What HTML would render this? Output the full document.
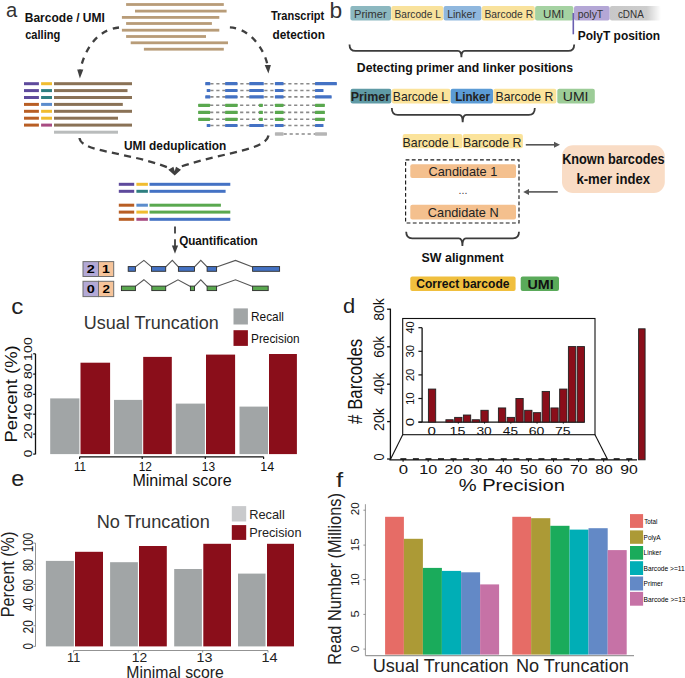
<!DOCTYPE html>
<html><head><meta charset="utf-8"><style>
html,body{margin:0;padding:0;background:#fff;}
svg{display:block;font-family:"Liberation Sans",sans-serif;}
</style></head><body>
<svg width="685" height="678" viewBox="0 0 685 678">
<defs>
<linearGradient id="cdna" x1="0" x2="1" y1="0" y2="0"><stop offset="0" stop-color="#c8c8c8"/><stop offset="0.72" stop-color="#cdcdcd"/><stop offset="1" stop-color="#ffffff"/></linearGradient>
</defs>
<text x="5.99" y="17.30" font-size="20.5" fill="#333" textLength="11.23" lengthAdjust="spacingAndGlyphs">a</text>
<text x="24.78" y="22.00" font-size="12.2" font-weight="bold" fill="#111" textLength="80.12" lengthAdjust="spacingAndGlyphs">Barcode / UMI</text>
<text x="25.17" y="38.70" font-size="12.2" font-weight="bold" fill="#111" textLength="35.11" lengthAdjust="spacingAndGlyphs">calling</text>
<text x="270.89" y="19.90" font-size="12.2" font-weight="bold" fill="#111" textLength="53.34" lengthAdjust="spacingAndGlyphs">Transcript</text>
<text x="272.53" y="38.70" font-size="12.2" font-weight="bold" fill="#111" textLength="52.39" lengthAdjust="spacingAndGlyphs">detection</text>
<rect x="126.10" y="3.10" width="97.70" height="2.80" fill="#b89c78" />
<rect x="135.00" y="9.70" width="91.60" height="2.80" fill="#b89c78" />
<rect x="121.90" y="16.00" width="97.40" height="2.80" fill="#b89c78" />
<rect x="126.10" y="22.10" width="85.80" height="2.80" fill="#b89c78" />
<rect x="121.90" y="28.80" width="97.40" height="2.80" fill="#b89c78" />
<rect x="126.10" y="35.10" width="79.90" height="2.80" fill="#b89c78" />
<rect x="130.70" y="41.40" width="97.30" height="2.80" fill="#b89c78" />
<rect x="143.90" y="47.80" width="79.90" height="2.80" fill="#b89c78" />
<path d="M119,27.5 C93.1,30.1 83,56.3 80.3,70" stroke="#3f3f3f" stroke-width="2.3" fill="none" stroke-dasharray="6.2 6"/>
<path d="M77.2,69.6 L83.3,69.6 L79.9,78.6 Z" stroke="none" stroke-width="1" fill="#3f3f3f" />
<path d="M229.9,27.4 C249.9,28.4 264.3,48.8 267.6,65.5" stroke="#3f3f3f" stroke-width="2.3" fill="none" stroke-dasharray="6.2 6"/>
<path d="M264.7,65 L270.9,65 L268.4,73.6 Z" stroke="none" stroke-width="1" fill="#3f3f3f" />
<rect x="24.00" y="82.20" width="14.90" height="3.00" fill="#5e4a9c" />
<rect x="41.10" y="82.20" width="10.90" height="3.00" fill="#f0bc30" />
<rect x="54.00" y="82.20" width="78.00" height="3.00" fill="#8a7256" />
<rect x="24.00" y="89.10" width="14.90" height="3.00" fill="#5e4a9c" />
<rect x="41.10" y="89.10" width="10.90" height="3.00" fill="#2e7f80" />
<rect x="54.00" y="89.10" width="73.50" height="3.00" fill="#8a7256" />
<rect x="24.00" y="96.00" width="14.90" height="3.00" fill="#5e4a9c" />
<rect x="41.10" y="96.00" width="10.90" height="3.00" fill="#2e7f80" />
<rect x="54.00" y="96.00" width="78.00" height="3.00" fill="#8a7256" />
<rect x="24.00" y="102.90" width="14.90" height="3.00" fill="#b85e24" />
<rect x="41.10" y="102.90" width="10.90" height="3.00" fill="#5b8ccc" />
<rect x="54.00" y="102.90" width="68.80" height="3.00" fill="#8a7256" />
<rect x="24.00" y="109.80" width="14.90" height="3.00" fill="#b85e24" />
<rect x="41.10" y="109.80" width="10.90" height="3.00" fill="#f0bc30" />
<rect x="54.00" y="109.80" width="78.00" height="3.00" fill="#8a7256" />
<rect x="24.00" y="116.70" width="14.90" height="3.00" fill="#b85e24" />
<rect x="41.10" y="116.70" width="10.90" height="3.00" fill="#f0bc30" />
<rect x="54.00" y="116.70" width="64.00" height="3.00" fill="#8a7256" />
<rect x="24.00" y="123.60" width="14.90" height="3.00" fill="#b85e24" />
<rect x="41.10" y="123.60" width="10.90" height="3.00" fill="#a84c82" />
<rect x="54.00" y="123.60" width="78.00" height="3.00" fill="#8a7256" />
<rect x="54.00" y="130.70" width="64.00" height="3.00" fill="#b9bcbc" />
<line x1="210.3" y1="83.7" x2="315" y2="83.7" stroke="#8a8a8a" stroke-width="1.6" stroke-dasharray="3.2 2.8"/>
<rect x="205.20" y="82.10" width="5.10" height="3.20" fill="#4472c4" rx="0.6"/>
<rect x="225.10" y="82.10" width="12.40" height="3.20" fill="#4472c4" rx="0.6"/>
<rect x="249.20" y="82.10" width="14.60" height="3.20" fill="#4472c4" rx="0.6"/>
<rect x="274.90" y="82.10" width="8.70" height="3.20" fill="#4472c4" rx="0.6"/>
<rect x="315.00" y="82.10" width="21.90" height="3.20" fill="#4472c4" rx="0.6"/>
<line x1="210.3" y1="90.5" x2="315" y2="90.5" stroke="#8a8a8a" stroke-width="1.6" stroke-dasharray="3.2 2.8"/>
<rect x="206.70" y="88.90" width="3.60" height="3.20" fill="#4472c4" rx="0.6"/>
<rect x="225.10" y="88.90" width="12.40" height="3.20" fill="#4472c4" rx="0.6"/>
<rect x="249.20" y="88.90" width="14.60" height="3.20" fill="#4472c4" rx="0.6"/>
<rect x="274.90" y="88.90" width="8.70" height="3.20" fill="#4472c4" rx="0.6"/>
<rect x="315.00" y="88.90" width="8.50" height="3.20" fill="#4472c4" rx="0.6"/>
<line x1="210.3" y1="96.9" x2="315" y2="96.9" stroke="#8a8a8a" stroke-width="1.6" stroke-dasharray="3.2 2.8"/>
<rect x="205.20" y="95.30" width="5.10" height="3.20" fill="#4472c4" rx="0.6"/>
<rect x="225.10" y="95.30" width="12.40" height="3.20" fill="#4472c4" rx="0.6"/>
<rect x="249.20" y="95.30" width="14.60" height="3.20" fill="#4472c4" rx="0.6"/>
<rect x="274.90" y="95.30" width="8.70" height="3.20" fill="#4472c4" rx="0.6"/>
<rect x="315.00" y="95.30" width="16.70" height="3.20" fill="#4472c4" rx="0.6"/>
<line x1="210.1" y1="105.3" x2="315" y2="105.3" stroke="#8a8a8a" stroke-width="1.6" stroke-dasharray="3.2 2.8"/>
<rect x="198.10" y="103.70" width="12.00" height="3.20" fill="#5aa84f" rx="0.6"/>
<rect x="225.10" y="103.70" width="12.60" height="3.20" fill="#5aa84f" rx="0.6"/>
<rect x="259.00" y="103.70" width="3.90" height="3.20" fill="#5aa84f" rx="0.6"/>
<rect x="274.90" y="103.70" width="8.70" height="3.20" fill="#5aa84f" rx="0.6"/>
<rect x="315.00" y="103.70" width="9.90" height="3.20" fill="#5aa84f" rx="0.6"/>
<line x1="210.1" y1="112.4" x2="315" y2="112.4" stroke="#8a8a8a" stroke-width="1.6" stroke-dasharray="3.2 2.8"/>
<rect x="198.10" y="110.80" width="12.00" height="3.20" fill="#5aa84f" rx="0.6"/>
<rect x="225.10" y="110.80" width="12.60" height="3.20" fill="#5aa84f" rx="0.6"/>
<rect x="259.00" y="110.80" width="3.90" height="3.20" fill="#5aa84f" rx="0.6"/>
<rect x="274.90" y="110.80" width="8.70" height="3.20" fill="#5aa84f" rx="0.6"/>
<rect x="315.00" y="110.80" width="9.90" height="3.20" fill="#5aa84f" rx="0.6"/>
<line x1="210.1" y1="119.3" x2="315" y2="119.3" stroke="#8a8a8a" stroke-width="1.6" stroke-dasharray="3.2 2.8"/>
<rect x="198.10" y="117.70" width="12.00" height="3.20" fill="#5aa84f" rx="0.6"/>
<rect x="225.10" y="117.70" width="12.60" height="3.20" fill="#5aa84f" rx="0.6"/>
<rect x="259.00" y="117.70" width="3.90" height="3.20" fill="#5aa84f" rx="0.6"/>
<rect x="274.90" y="117.70" width="8.70" height="3.20" fill="#5aa84f" rx="0.6"/>
<rect x="315.00" y="117.70" width="9.90" height="3.20" fill="#5aa84f" rx="0.6"/>
<line x1="210.3" y1="125.5" x2="315" y2="125.5" stroke="#8a8a8a" stroke-width="1.6" stroke-dasharray="3.2 2.8"/>
<rect x="206.70" y="123.90" width="3.60" height="3.20" fill="#4472c4" rx="0.6"/>
<rect x="225.10" y="123.90" width="12.40" height="3.20" fill="#4472c4" rx="0.6"/>
<rect x="249.20" y="123.90" width="14.60" height="3.20" fill="#4472c4" rx="0.6"/>
<rect x="274.90" y="123.90" width="8.70" height="3.20" fill="#4472c4" rx="0.6"/>
<rect x="315.00" y="123.90" width="8.50" height="3.20" fill="#4472c4" rx="0.6"/>
<line x1="283.6" y1="134.0" x2="315" y2="134.0" stroke="#8a8a8a" stroke-width="1.6" stroke-dasharray="3.2 2.8"/>
<rect x="274.90" y="132.30" width="8.70" height="3.40" fill="#b5b5b5" rx="0.6"/>
<rect x="315.00" y="132.30" width="12.00" height="3.40" fill="#b5b5b5" rx="0.6"/>
<text x="123.99" y="149.90" font-size="12.2" font-weight="bold" fill="#111" textLength="102.23" lengthAdjust="spacingAndGlyphs">UMI deduplication</text>
<path d="M79.5,138 C81,152 128,152 168,167.5" stroke="#3f3f3f" stroke-width="2.3" fill="none" stroke-dasharray="7.2 5.2"/>
<path d="M268.5,135.5 C266,150 225,152 181,166.5" stroke="#3f3f3f" stroke-width="2.3" fill="none" stroke-dasharray="7.2 5.2"/>
<path d="M168.3,169.8 L173.4,166.8 L174.7,171.2 L176,166.7 L181,169.8 L174.7,175.5 Z" stroke="none" stroke-width="1" fill="#3f3f3f" />
<rect x="118.80" y="182.80" width="15.40" height="3.00" fill="#5e4a9c" />
<rect x="136.40" y="182.80" width="11.50" height="3.00" fill="#f0bc30" />
<rect x="149.50" y="182.80" width="80.80" height="3.00" fill="#4472c4" />
<rect x="118.80" y="189.80" width="15.40" height="3.00" fill="#5e4a9c" />
<rect x="136.40" y="189.80" width="11.50" height="3.00" fill="#2e7f80" />
<rect x="149.50" y="189.80" width="76.10" height="3.00" fill="#4472c4" />
<rect x="118.80" y="203.70" width="15.40" height="3.00" fill="#b85e24" />
<rect x="136.40" y="203.70" width="11.50" height="3.00" fill="#5b8ccc" />
<rect x="149.50" y="203.70" width="71.40" height="3.00" fill="#5aa84f" />
<rect x="118.80" y="210.60" width="15.40" height="3.00" fill="#b85e24" />
<rect x="136.40" y="210.60" width="11.50" height="3.00" fill="#f0bc30" />
<rect x="149.50" y="210.60" width="80.80" height="3.00" fill="#5aa84f" />
<rect x="118.80" y="217.80" width="15.40" height="3.00" fill="#b85e24" />
<rect x="136.40" y="217.80" width="11.50" height="3.00" fill="#a84c82" />
<rect x="149.50" y="217.80" width="80.80" height="3.00" fill="#4472c4" />
<line x1="175" y1="226.4" x2="175" y2="233.5" stroke="#3f3f3f" stroke-width="1.8" />
<line x1="175" y1="239.3" x2="175" y2="247" stroke="#3f3f3f" stroke-width="1.8" />
<path d="M171.9,245.6 L178.1,245.6 L175,253.7 Z" stroke="none" stroke-width="1" fill="#3f3f3f" />
<text x="179.13" y="244.60" font-size="12.2" font-weight="bold" fill="#111" textLength="78.58" lengthAdjust="spacingAndGlyphs">Quantification</text>
<rect x="83.00" y="261.60" width="15.50" height="14.90" fill="#b3a9d6" stroke="#6f6f6f" stroke-width="1"/>
<rect x="98.50" y="261.60" width="15.20" height="14.90" fill="#f6c49a" stroke="#6f6f6f" stroke-width="1"/>
<text x="86.77" y="273.10" font-size="11.3" font-weight="bold" fill="#000" textLength="8.06" lengthAdjust="spacingAndGlyphs">2</text>
<text x="101.96" y="273.10" font-size="11.3" font-weight="bold" fill="#000" textLength="7.81" lengthAdjust="spacingAndGlyphs">1</text>
<rect x="83.00" y="281.30" width="15.50" height="15.30" fill="#b3a9d6" stroke="#6f6f6f" stroke-width="1"/>
<rect x="98.50" y="281.30" width="15.20" height="15.30" fill="#f6c49a" stroke="#6f6f6f" stroke-width="1"/>
<text x="86.77" y="293.00" font-size="11.3" font-weight="bold" fill="#000" textLength="8.06" lengthAdjust="spacingAndGlyphs">0</text>
<text x="102.40" y="293.00" font-size="11.3" font-weight="bold" fill="#000" textLength="7.49" lengthAdjust="spacingAndGlyphs">2</text>
<path d="M135.4,266.90000000000003 L143.9,260.4 L151.5,266.90000000000003" stroke="#555" stroke-width="1.1" fill="none" />
<path d="M165.7,266.90000000000003 L172.3,260.4 L178.4,266.90000000000003" stroke="#555" stroke-width="1.1" fill="none" />
<path d="M194.5,266.90000000000003 L200.8,260.4 L207.1,266.90000000000003" stroke="#555" stroke-width="1.1" fill="none" />
<path d="M216.6,266.90000000000003 L235.5,260.4 L252.6,266.90000000000003" stroke="#555" stroke-width="1.1" fill="none" />
<rect x="128.20" y="266.60" width="7.20" height="4.70" fill="#4472c4" stroke="#2b2b2b" stroke-width="0.9"/>
<rect x="151.50" y="266.60" width="14.20" height="4.70" fill="#4472c4" stroke="#2b2b2b" stroke-width="0.9"/>
<rect x="178.40" y="266.60" width="16.10" height="4.70" fill="#4472c4" stroke="#2b2b2b" stroke-width="0.9"/>
<rect x="207.10" y="266.60" width="9.50" height="4.70" fill="#4472c4" stroke="#2b2b2b" stroke-width="0.9"/>
<rect x="252.60" y="266.60" width="27.00" height="4.70" fill="#4472c4" stroke="#2b2b2b" stroke-width="0.9"/>
<path d="M135.4,286.40000000000003 L143.9,279.7 L151.8,286.40000000000003" stroke="#555" stroke-width="1.1" fill="none" />
<path d="M165.7,286.40000000000003 L178,279.8 L190.4,286.40000000000003" stroke="#555" stroke-width="1.1" fill="none" />
<path d="M194.5,286.40000000000003 L200.8,279.8 L207.1,286.40000000000003" stroke="#555" stroke-width="1.1" fill="none" />
<path d="M216.6,286.40000000000003 L235.5,279.8 L252.6,286.40000000000003" stroke="#555" stroke-width="1.1" fill="none" />
<rect x="121.40" y="286.10" width="14.00" height="4.50" fill="#5aa84f" stroke="#2b2b2b" stroke-width="0.9"/>
<rect x="151.80" y="286.10" width="13.90" height="4.50" fill="#5aa84f" stroke="#2b2b2b" stroke-width="0.9"/>
<rect x="190.40" y="286.10" width="4.10" height="4.50" fill="#5aa84f" stroke="#2b2b2b" stroke-width="0.9"/>
<rect x="207.10" y="286.10" width="9.50" height="4.50" fill="#5aa84f" stroke="#2b2b2b" stroke-width="0.9"/>
<rect x="252.60" y="286.10" width="15.60" height="4.50" fill="#5aa84f" stroke="#2b2b2b" stroke-width="0.9"/>
<text x="329.63" y="18.40" font-size="21.5" fill="#333" textLength="12.69" lengthAdjust="spacingAndGlyphs">b</text>
<rect x="350.40" y="6.10" width="40.60" height="14.50" rx="2" fill="#8cb8c0" />
<rect x="391.30" y="6.10" width="52.00" height="14.50" rx="2" fill="#f9e29c" />
<rect x="443.60" y="6.10" width="37.80" height="14.50" rx="2" fill="#8fb7de" />
<rect x="481.80" y="6.10" width="53.00" height="14.50" rx="2" fill="#f9e29c" />
<rect x="535.10" y="6.10" width="38.30" height="14.50" rx="2" fill="#a5d2a2" />
<rect x="574.00" y="6.10" width="35.70" height="14.50" rx="2" fill="#b4a7d6" />
<rect x="609.90" y="6.10" width="51.10" height="14.50" rx="2" fill="url(#cdna)" />
<text x="354.01" y="17.70" font-size="10.7" fill="#333" textLength="32.73" lengthAdjust="spacingAndGlyphs">Primer</text>
<text x="394.59" y="17.70" font-size="10.7" fill="#333" textLength="46.28" lengthAdjust="spacingAndGlyphs">Barcode L</text>
<text x="447.15" y="17.70" font-size="10.7" fill="#333" textLength="28.78" lengthAdjust="spacingAndGlyphs">Linker</text>
<text x="484.48" y="17.70" font-size="10.7" fill="#333" textLength="48.66" lengthAdjust="spacingAndGlyphs">Barcode R</text>
<text x="543.09" y="17.70" font-size="10.7" fill="#333" textLength="21.23" lengthAdjust="spacingAndGlyphs">UMI</text>
<text x="577.78" y="17.70" font-size="10.7" fill="#333" textLength="25.44" lengthAdjust="spacingAndGlyphs">polyT</text>
<text x="617.90" y="17.70" font-size="10.7" fill="#333" textLength="25.87" lengthAdjust="spacingAndGlyphs">cDNA</text>
<line x1="573.3" y1="13.0" x2="573.3" y2="34.3" stroke="#6a5fb0" stroke-width="1.6" />
<text x="577.68" y="40.00" font-size="12.8" font-weight="bold" fill="#111" textLength="82.45" lengthAdjust="spacingAndGlyphs">PolyT position</text>
<path d="M349.5,44.4 Q349.5,50.9 355.5,50.9 L457.9,50.9 Q461.4,50.9 461.4,57.3 Q461.4,50.9 464.9,50.9 L568.2,50.9 Q574.2,50.9 574.2,44.4" stroke="#3c3c3c" stroke-width="1.8" fill="none" />
<text x="356.87" y="71.60" font-size="12.2" font-weight="bold" fill="#111" textLength="216.28" lengthAdjust="spacingAndGlyphs">Detecting primer and linker positions</text>
<rect x="350.60" y="88.80" width="40.70" height="14.60" rx="2" fill="#5f9aa5" />
<rect x="391.80" y="88.80" width="58.60" height="14.60" rx="2" fill="#fbe39b" />
<rect x="450.70" y="88.80" width="42.30" height="14.60" rx="2" fill="#5b9bd5" />
<rect x="493.30" y="88.80" width="63.00" height="14.60" rx="2" fill="#fbe39b" />
<rect x="557.30" y="88.80" width="37.50" height="14.60" rx="2" fill="#9ccc97" />
<text x="350.76" y="100.60" font-size="13.0" font-weight="bold" fill="#222" textLength="39.26" lengthAdjust="spacingAndGlyphs">Primer</text>
<text x="392.83" y="100.60" font-size="13.3" fill="#222" textLength="55.29" lengthAdjust="spacingAndGlyphs">Barcode L</text>
<text x="455.20" y="100.60" font-size="13.0" font-weight="bold" fill="#222" textLength="34.80" lengthAdjust="spacingAndGlyphs">Linker</text>
<text x="495.62" y="100.60" font-size="13.3" fill="#222" textLength="57.69" lengthAdjust="spacingAndGlyphs">Barcode R</text>
<text x="562.82" y="100.60" font-size="13.3" fill="#222" textLength="25.71" lengthAdjust="spacingAndGlyphs">UMI</text>
<path d="M391.8,108.0 Q391.8,114.9 397.8,114.9 L459.2,114.9 Q462.7,114.9 462.7,122.3 Q462.7,114.9 466.2,114.9 L528.8,114.9 Q534.8,114.9 534.8,108.0" stroke="#3c3c3c" stroke-width="1.8" fill="none" />
<rect x="402.70" y="133.90" width="59.60" height="14.30" rx="2" fill="#fbe39b" />
<rect x="462.70" y="133.90" width="60.20" height="14.30" rx="2" fill="#fbe39b" />
<text x="402.61" y="146.80" font-size="13.3" fill="#222" textLength="56.21" lengthAdjust="spacingAndGlyphs">Barcode L</text>
<text x="463.01" y="146.80" font-size="13.3" fill="#222" textLength="58.41" lengthAdjust="spacingAndGlyphs">Barcode R</text>
<line x1="525.8" y1="144.8" x2="556" y2="144.8" stroke="#555" stroke-width="1.6" />
<path d="M554,141.8 L560,144.8 L554,147.8 Z" stroke="none" stroke-width="1" fill="#555" />
<line x1="557.8" y1="191.9" x2="527" y2="191.9" stroke="#555" stroke-width="1.6" />
<path d="M529,188.9 L523.2,191.9 L529,194.9 Z" stroke="none" stroke-width="1" fill="#555" />
<rect x="562.00" y="145.20" width="102.80" height="47.80" rx="11" fill="#f9dcc5" />
<text x="562.14" y="164.30" font-size="14.2" font-weight="bold" fill="#111" textLength="102.52" lengthAdjust="spacingAndGlyphs">Known barcodes</text>
<text x="576.41" y="184.20" font-size="14.2" font-weight="bold" fill="#111" textLength="73.67" lengthAdjust="spacingAndGlyphs">k-mer index</text>
<rect x="405.6" y="159.8" width="113.4" height="63.2" fill="none" stroke="#1a1a1a" stroke-width="1.15" stroke-dasharray="3.8 2.4"/>
<rect x="410.30" y="164.30" width="105.70" height="13.70" rx="2" fill="#f4c08e" />
<rect x="410.30" y="204.80" width="105.70" height="14.70" rx="2" fill="#f4c08e" />
<text x="428.46" y="175.70" font-size="13.0" fill="#222" textLength="68.93" lengthAdjust="spacingAndGlyphs">Candidate 1</text>
<text x="427.86" y="216.60" font-size="13.0" fill="#222" textLength="70.86" lengthAdjust="spacingAndGlyphs">Candidate N</text>
<text x="458.64" y="193.60" font-size="10" fill="#444" textLength="8.90" lengthAdjust="spacingAndGlyphs">...</text>
<path d="M406.2,231.7 Q406.2,238.3 412.2,238.3 L458.9,238.3 Q462.4,238.3 462.4,246 Q462.4,238.3 465.9,238.3 L513,238.3 Q519,238.3 519,231.7" stroke="#3c3c3c" stroke-width="1.8" fill="none" />
<text x="421.55" y="261.70" font-size="12.2" font-weight="bold" fill="#111" textLength="82.09" lengthAdjust="spacingAndGlyphs">SW alignment</text>
<rect x="410.30" y="276.50" width="105.30" height="14.60" rx="2" fill="#f0bf3e" />
<rect x="520.70" y="276.50" width="38.30" height="14.60" rx="2" fill="#5aaa5a" />
<text x="416.22" y="287.80" font-size="13.3" font-weight="bold" fill="#111" textLength="93.30" lengthAdjust="spacingAndGlyphs">Correct barcode</text>
<text x="527.54" y="288.50" font-size="13.3" font-weight="bold" fill="#111" textLength="26.18" lengthAdjust="spacingAndGlyphs">UMI</text>
<text x="11.34" y="313.50" font-size="22.5" fill="#222" textLength="12.05" lengthAdjust="spacingAndGlyphs">c</text>
<text x="83.74" y="328.50" font-size="18.7" fill="#333" textLength="134.96" lengthAdjust="spacingAndGlyphs">Usual Truncation</text>
<rect x="233.50" y="308.40" width="14.40" height="16.10" fill="#a1a5a6" />
<rect x="233.50" y="330.20" width="14.40" height="15.70" fill="#8a0e1a" />
<text x="251.05" y="320.80" font-size="13.5" fill="#111" textLength="32.88" lengthAdjust="spacingAndGlyphs">Recall</text>
<text x="251.05" y="342.60" font-size="13.5" fill="#111" textLength="48.61" lengthAdjust="spacingAndGlyphs">Precision</text>
<rect x="50.20" y="398.40" width="29.20" height="55.70" fill="#a1a5a6" />
<rect x="114.00" y="399.90" width="28.20" height="54.20" fill="#a1a5a6" />
<rect x="175.80" y="403.60" width="29.10" height="50.50" fill="#a1a5a6" />
<rect x="239.50" y="406.60" width="28.50" height="47.50" fill="#a1a5a6" />
<rect x="80.50" y="362.70" width="29.60" height="91.40" fill="#8a0e1a" />
<rect x="143.20" y="356.90" width="28.60" height="97.20" fill="#8a0e1a" />
<rect x="206.00" y="354.60" width="29.10" height="99.50" fill="#8a0e1a" />
<rect x="269.00" y="354.00" width="27.90" height="100.10" fill="#8a0e1a" />
<line x1="35.5" y1="353.8" x2="35.5" y2="454.3" stroke="#111" stroke-width="1.3" />
<line x1="33.2" y1="353.8" x2="35.5" y2="353.8" stroke="#111" stroke-width="1.2" />
<line x1="33.2" y1="374.1" x2="35.5" y2="374.1" stroke="#111" stroke-width="1.2" />
<line x1="33.2" y1="394.3" x2="35.5" y2="394.3" stroke="#111" stroke-width="1.2" />
<line x1="33.2" y1="414.2" x2="35.5" y2="414.2" stroke="#111" stroke-width="1.2" />
<line x1="33.2" y1="434.1" x2="35.5" y2="434.1" stroke="#111" stroke-width="1.2" />
<line x1="33.2" y1="454.1" x2="35.5" y2="454.1" stroke="#111" stroke-width="1.2" />
<text transform="translate(31.60,456.90) rotate(-90)" x="-0.41" y="0" font-size="11.4" fill="#111" textLength="7.60" lengthAdjust="spacingAndGlyphs">0</text>
<text transform="translate(31.60,438.30) rotate(-90)" x="-0.70" y="0" font-size="11.4" fill="#111" textLength="15.61" lengthAdjust="spacingAndGlyphs">20</text>
<text transform="translate(31.60,419.20) rotate(-90)" x="-0.28" y="0" font-size="11.4" fill="#111" textLength="15.69" lengthAdjust="spacingAndGlyphs">40</text>
<text transform="translate(31.60,397.50) rotate(-90)" x="-0.65" y="0" font-size="11.4" fill="#111" textLength="14.53" lengthAdjust="spacingAndGlyphs">60</text>
<text transform="translate(31.60,378.50) rotate(-90)" x="-0.56" y="0" font-size="11.4" fill="#111" textLength="15.57" lengthAdjust="spacingAndGlyphs">80</text>
<text transform="translate(31.60,359.90) rotate(-90)" x="-0.99" y="0" font-size="11.4" fill="#111" textLength="23.71" lengthAdjust="spacingAndGlyphs">100</text>
<text transform="translate(16.80,441.00) rotate(-90)" x="-1.47" y="0" font-size="16" fill="#111" textLength="97.15" lengthAdjust="spacingAndGlyphs">Percent (%)</text>
<line x1="79.6" y1="456.8" x2="263.6" y2="456.8" stroke="#111" stroke-width="1.3" />
<line x1="79.6" y1="456.8" x2="79.6" y2="458.9" stroke="#111" stroke-width="1.2" />
<line x1="142.2" y1="456.8" x2="142.2" y2="458.9" stroke="#111" stroke-width="1.2" />
<line x1="205.3" y1="456.8" x2="205.3" y2="458.9" stroke="#111" stroke-width="1.2" />
<line x1="263.6" y1="456.8" x2="263.6" y2="458.9" stroke="#111" stroke-width="1.2" />
<text x="73.89" y="470.70" font-size="12.6" fill="#111" textLength="12.05" lengthAdjust="spacingAndGlyphs">11</text>
<text x="138.66" y="470.70" font-size="12.6" fill="#111" textLength="13.29" lengthAdjust="spacingAndGlyphs">12</text>
<text x="201.87" y="470.70" font-size="12.6" fill="#111" textLength="13.27" lengthAdjust="spacingAndGlyphs">13</text>
<text x="260.33" y="470.70" font-size="12.6" fill="#111" textLength="13.90" lengthAdjust="spacingAndGlyphs">14</text>
<text x="132.41" y="485.90" font-size="16.6" fill="#111" textLength="99.17" lengthAdjust="spacingAndGlyphs">Minimal score</text>
<text x="11.37" y="485.80" font-size="22.5" fill="#222" textLength="12.98" lengthAdjust="spacingAndGlyphs">e</text>
<text x="96.65" y="527.60" font-size="18.7" fill="#333" textLength="113.17" lengthAdjust="spacingAndGlyphs">No Truncation</text>
<rect x="231.80" y="506.10" width="14.40" height="15.40" fill="#c9cacc" />
<rect x="231.80" y="525.10" width="14.40" height="14.80" fill="#8a0e1a" />
<text x="249.17" y="519.00" font-size="13.5" fill="#222" textLength="35.62" lengthAdjust="spacingAndGlyphs">Recall</text>
<text x="249.18" y="537.40" font-size="13.5" fill="#222" textLength="52.33" lengthAdjust="spacingAndGlyphs">Precision</text>
<rect x="45.90" y="560.90" width="28.00" height="85.50" fill="#a1a5a6" />
<rect x="110.10" y="562.20" width="27.80" height="84.20" fill="#a1a5a6" />
<rect x="174.20" y="569.00" width="27.70" height="77.40" fill="#a1a5a6" />
<rect x="238.00" y="573.60" width="27.50" height="72.80" fill="#a1a5a6" />
<rect x="75.00" y="551.80" width="28.00" height="94.60" fill="#8a0e1a" />
<rect x="139.00" y="546.00" width="27.80" height="100.40" fill="#8a0e1a" />
<rect x="203.30" y="543.80" width="27.70" height="102.60" fill="#8a0e1a" />
<rect x="267.00" y="543.80" width="27.00" height="102.60" fill="#8a0e1a" />
<line x1="35.5" y1="543.1" x2="35.5" y2="646.4" stroke="#777" stroke-width="0.8" />
<line x1="33.5" y1="543.1" x2="35.5" y2="543.1" stroke="#777" stroke-width="0.8" />
<line x1="33.5" y1="564.1" x2="35.5" y2="564.1" stroke="#777" stroke-width="0.8" />
<line x1="33.5" y1="584.5" x2="35.5" y2="584.5" stroke="#777" stroke-width="0.8" />
<line x1="33.5" y1="605.2" x2="35.5" y2="605.2" stroke="#777" stroke-width="0.8" />
<line x1="33.5" y1="625.7" x2="35.5" y2="625.7" stroke="#777" stroke-width="0.8" />
<line x1="33.5" y1="646.4" x2="35.5" y2="646.4" stroke="#777" stroke-width="0.8" />
<text transform="translate(33.20,649.20) rotate(-90)" x="-0.35" y="0" font-size="14.2" fill="#222" textLength="6.47" lengthAdjust="spacingAndGlyphs">0</text>
<text transform="translate(33.20,632.90) rotate(-90)" x="-0.59" y="0" font-size="14.2" fill="#222" textLength="13.22" lengthAdjust="spacingAndGlyphs">20</text>
<text transform="translate(33.20,610.80) rotate(-90)" x="-0.23" y="0" font-size="14.2" fill="#222" textLength="12.85" lengthAdjust="spacingAndGlyphs">40</text>
<text transform="translate(33.20,591.00) rotate(-90)" x="-0.57" y="0" font-size="14.2" fill="#222" textLength="12.57" lengthAdjust="spacingAndGlyphs">60</text>
<text transform="translate(33.20,570.90) rotate(-90)" x="-0.44" y="0" font-size="14.2" fill="#222" textLength="12.24" lengthAdjust="spacingAndGlyphs">80</text>
<text transform="translate(33.20,551.50) rotate(-90)" x="-0.82" y="0" font-size="14.2" fill="#222" textLength="19.65" lengthAdjust="spacingAndGlyphs">100</text>
<text transform="translate(14.00,616.00) rotate(-90)" x="-1.30" y="0" font-size="18.2" fill="#222" textLength="85.76" lengthAdjust="spacingAndGlyphs">Percent (%)</text>
<line x1="73.6" y1="650.5" x2="268" y2="650.5" stroke="#777" stroke-width="0.8" />
<line x1="73.6" y1="650.5" x2="73.6" y2="652.5" stroke="#777" stroke-width="0.8" />
<line x1="138.3" y1="650.5" x2="138.3" y2="652.5" stroke="#777" stroke-width="0.8" />
<line x1="202.7" y1="650.5" x2="202.7" y2="652.5" stroke="#777" stroke-width="0.8" />
<line x1="268" y1="650.5" x2="268" y2="652.5" stroke="#777" stroke-width="0.8" />
<text x="67.11" y="662.00" font-size="12.2" fill="#222" textLength="13.17" lengthAdjust="spacingAndGlyphs">11</text>
<text x="131.83" y="662.00" font-size="12.2" fill="#222" textLength="15.41" lengthAdjust="spacingAndGlyphs">12</text>
<text x="196.50" y="662.00" font-size="12.2" fill="#222" textLength="15.92" lengthAdjust="spacingAndGlyphs">13</text>
<text x="261.49" y="662.00" font-size="12.2" fill="#222" textLength="16.09" lengthAdjust="spacingAndGlyphs">14</text>
<text x="126.34" y="678.30" font-size="16.6" fill="#222" textLength="97.43" lengthAdjust="spacingAndGlyphs">Minimal score</text>
<text x="343.12" y="312.60" font-size="20.6" fill="#222" textLength="12.21" lengthAdjust="spacingAndGlyphs">d</text>
<line x1="390.4" y1="308.7" x2="390.4" y2="459.8" stroke="#111" stroke-width="1.3" />
<line x1="387.1" y1="309.2" x2="390.4" y2="309.2" stroke="#111" stroke-width="1.3" />
<line x1="387.1" y1="346.8" x2="390.4" y2="346.8" stroke="#111" stroke-width="1.3" />
<line x1="387.1" y1="384.2" x2="390.4" y2="384.2" stroke="#111" stroke-width="1.3" />
<line x1="387.1" y1="421.6" x2="390.4" y2="421.6" stroke="#111" stroke-width="1.3" />
<line x1="387.1" y1="459.0" x2="390.4" y2="459.0" stroke="#111" stroke-width="1.3" />
<text transform="translate(383.90,460.20) rotate(-90)" x="-0.38" y="0" font-size="15.4" fill="#111" textLength="7.04" lengthAdjust="spacingAndGlyphs">0</text>
<text transform="translate(383.90,430.20) rotate(-90)" x="-0.71" y="0" font-size="15.4" fill="#111" textLength="22.76" lengthAdjust="spacingAndGlyphs">20k</text>
<text transform="translate(383.90,394.30) rotate(-90)" x="-0.27" y="0" font-size="15.4" fill="#111" textLength="21.73" lengthAdjust="spacingAndGlyphs">40k</text>
<text transform="translate(383.90,357.00) rotate(-90)" x="-0.67" y="0" font-size="15.4" fill="#111" textLength="21.74" lengthAdjust="spacingAndGlyphs">60k</text>
<text transform="translate(383.90,320.30) rotate(-90)" x="-0.56" y="0" font-size="15.4" fill="#111" textLength="22.52" lengthAdjust="spacingAndGlyphs">80k</text>
<text transform="translate(361.90,423.90) rotate(-90)" x="0.00" y="0" font-size="20.7" fill="#111" textLength="85.10" lengthAdjust="spacingAndGlyphs"># Barcodes</text>
<line x1="389.4" y1="459.8" x2="637" y2="459.8" stroke="#111" stroke-width="1.2" />
<rect x="400.35" y="458.20" width="6.00" height="1.60" fill="#111" />
<rect x="412.90" y="458.20" width="6.00" height="1.60" fill="#111" />
<rect x="425.45" y="458.20" width="6.00" height="1.60" fill="#111" />
<rect x="438.00" y="458.20" width="6.00" height="1.60" fill="#111" />
<rect x="450.55" y="458.20" width="6.00" height="1.60" fill="#111" />
<rect x="463.10" y="458.20" width="6.00" height="1.60" fill="#111" />
<rect x="475.65" y="458.20" width="6.00" height="1.60" fill="#111" />
<rect x="488.20" y="458.20" width="6.00" height="1.60" fill="#111" />
<rect x="500.75" y="458.20" width="6.00" height="1.60" fill="#111" />
<rect x="513.30" y="458.20" width="6.00" height="1.60" fill="#111" />
<rect x="525.85" y="458.20" width="6.00" height="1.60" fill="#111" />
<rect x="538.40" y="458.20" width="6.00" height="1.60" fill="#111" />
<rect x="550.95" y="458.20" width="6.00" height="1.60" fill="#111" />
<rect x="563.50" y="458.20" width="6.00" height="1.60" fill="#111" />
<rect x="576.05" y="458.20" width="6.00" height="1.60" fill="#111" />
<rect x="588.60" y="458.20" width="6.00" height="1.60" fill="#111" />
<rect x="601.15" y="458.20" width="6.00" height="1.60" fill="#111" />
<rect x="613.70" y="458.20" width="6.00" height="1.60" fill="#111" />
<rect x="626.25" y="458.20" width="6.00" height="1.60" fill="#111" />
<line x1="403.1" y1="459.8" x2="403.1" y2="461.8" stroke="#111" stroke-width="1.1" />
<text x="398.80" y="474.20" font-size="12.9" fill="#111" textLength="9.31" lengthAdjust="spacingAndGlyphs">0</text>
<line x1="428.17" y1="459.8" x2="428.17" y2="461.8" stroke="#111" stroke-width="1.1" />
<text x="419.19" y="474.20" font-size="12.9" fill="#111" textLength="18.02" lengthAdjust="spacingAndGlyphs">10</text>
<line x1="453.24" y1="459.8" x2="453.24" y2="461.8" stroke="#111" stroke-width="1.1" />
<text x="444.60" y="474.20" font-size="12.9" fill="#111" textLength="17.67" lengthAdjust="spacingAndGlyphs">20</text>
<line x1="478.31000000000006" y1="459.8" x2="478.31000000000006" y2="461.8" stroke="#111" stroke-width="1.1" />
<text x="469.99" y="474.20" font-size="12.9" fill="#111" textLength="17.33" lengthAdjust="spacingAndGlyphs">30</text>
<line x1="503.38" y1="459.8" x2="503.38" y2="461.8" stroke="#111" stroke-width="1.1" />
<text x="495.22" y="474.20" font-size="12.9" fill="#111" textLength="17.17" lengthAdjust="spacingAndGlyphs">40</text>
<line x1="528.45" y1="459.8" x2="528.45" y2="461.8" stroke="#111" stroke-width="1.1" />
<text x="519.97" y="474.20" font-size="12.9" fill="#111" textLength="17.50" lengthAdjust="spacingAndGlyphs">50</text>
<line x1="553.52" y1="459.8" x2="553.52" y2="461.8" stroke="#111" stroke-width="1.1" />
<text x="544.88" y="474.20" font-size="12.9" fill="#111" textLength="17.67" lengthAdjust="spacingAndGlyphs">60</text>
<line x1="578.59" y1="459.8" x2="578.59" y2="461.8" stroke="#111" stroke-width="1.1" />
<text x="569.95" y="474.20" font-size="12.9" fill="#111" textLength="17.67" lengthAdjust="spacingAndGlyphs">70</text>
<line x1="603.6600000000001" y1="459.8" x2="603.6600000000001" y2="461.8" stroke="#111" stroke-width="1.1" />
<text x="595.18" y="474.20" font-size="12.9" fill="#111" textLength="17.50" lengthAdjust="spacingAndGlyphs">80</text>
<line x1="628.73" y1="459.8" x2="628.73" y2="461.8" stroke="#111" stroke-width="1.1" />
<text x="620.25" y="474.20" font-size="12.9" fill="#111" textLength="17.50" lengthAdjust="spacingAndGlyphs">90</text>
<text x="458.70" y="491.10" font-size="16.0" fill="#111" textLength="106.23" lengthAdjust="spacingAndGlyphs">% Precision</text>
<rect x="638.60" y="328.80" width="6.50" height="131.00" fill="#8a0e1a" stroke="#222" stroke-width="0.9"/>
<rect x="402.7" y="318.5" width="192.3" height="116.2" fill="#fff" stroke="#111" stroke-width="1.1"/>
<line x1="402.7" y1="434.7" x2="390.4" y2="459.6" stroke="#111" stroke-width="1.1" />
<line x1="595" y1="434.7" x2="607.6" y2="459.6" stroke="#111" stroke-width="1.1" />
<line x1="422.1" y1="327.7" x2="422.1" y2="422.1" stroke="#111" stroke-width="1.3" />
<line x1="418.4" y1="422.1" x2="422.1" y2="422.1" stroke="#111" stroke-width="1.2" />
<line x1="418.4" y1="398.5" x2="422.1" y2="398.5" stroke="#111" stroke-width="1.2" />
<line x1="418.4" y1="374.90000000000003" x2="422.1" y2="374.90000000000003" stroke="#111" stroke-width="1.2" />
<line x1="418.4" y1="351.3" x2="422.1" y2="351.3" stroke="#111" stroke-width="1.2" />
<line x1="418.4" y1="327.70000000000005" x2="422.1" y2="327.70000000000005" stroke="#111" stroke-width="1.2" />
<text transform="translate(414.30,425.80) rotate(-90)" x="-0.45" y="0" font-size="11.2" fill="#111" textLength="8.40" lengthAdjust="spacingAndGlyphs">0</text>
<text transform="translate(414.30,404.30) rotate(-90)" x="-0.81" y="0" font-size="11.2" fill="#111" textLength="12.82" lengthAdjust="spacingAndGlyphs">10</text>
<text transform="translate(414.30,380.70) rotate(-90)" x="-0.57" y="0" font-size="11.2" fill="#111" textLength="12.57" lengthAdjust="spacingAndGlyphs">20</text>
<text transform="translate(414.30,357.20) rotate(-90)" x="-0.34" y="0" font-size="11.2" fill="#111" textLength="12.55" lengthAdjust="spacingAndGlyphs">30</text>
<text transform="translate(414.30,333.30) rotate(-90)" x="-0.22" y="0" font-size="11.2" fill="#111" textLength="12.22" lengthAdjust="spacingAndGlyphs">40</text>
<line x1="418.4" y1="422.1" x2="584.6" y2="422.1" stroke="#111" stroke-width="1.2" />
<rect x="428.40" y="389.06" width="7.30" height="33.04" fill="#8a0e1a" stroke="#222" stroke-width="0.9"/>
<rect x="445.90" y="419.74" width="7.30" height="2.36" fill="#8a0e1a" stroke="#222" stroke-width="0.9"/>
<rect x="454.65" y="417.38" width="7.30" height="4.72" fill="#8a0e1a" stroke="#222" stroke-width="0.9"/>
<rect x="463.40" y="415.02" width="7.30" height="7.08" fill="#8a0e1a" stroke="#222" stroke-width="0.9"/>
<rect x="472.15" y="419.74" width="7.30" height="2.36" fill="#8a0e1a" stroke="#222" stroke-width="0.9"/>
<rect x="480.90" y="410.30" width="7.30" height="11.80" fill="#8a0e1a" stroke="#222" stroke-width="0.9"/>
<rect x="498.40" y="407.94" width="7.30" height="14.16" fill="#8a0e1a" stroke="#222" stroke-width="0.9"/>
<rect x="507.15" y="417.38" width="7.30" height="4.72" fill="#8a0e1a" stroke="#222" stroke-width="0.9"/>
<rect x="515.90" y="398.50" width="7.30" height="23.60" fill="#8a0e1a" stroke="#222" stroke-width="0.9"/>
<rect x="524.65" y="410.30" width="7.30" height="11.80" fill="#8a0e1a" stroke="#222" stroke-width="0.9"/>
<rect x="533.40" y="412.66" width="7.30" height="9.44" fill="#8a0e1a" stroke="#222" stroke-width="0.9"/>
<rect x="542.15" y="391.42" width="7.30" height="30.68" fill="#8a0e1a" stroke="#222" stroke-width="0.9"/>
<rect x="550.90" y="407.94" width="7.30" height="14.16" fill="#8a0e1a" stroke="#222" stroke-width="0.9"/>
<rect x="559.65" y="389.06" width="7.30" height="33.04" fill="#8a0e1a" stroke="#222" stroke-width="0.9"/>
<rect x="568.40" y="346.58" width="7.30" height="75.52" fill="#8a0e1a" stroke="#222" stroke-width="0.9"/>
<rect x="577.15" y="346.58" width="7.30" height="75.52" fill="#8a0e1a" stroke="#222" stroke-width="0.9"/>
<text x="427.40" y="434.50" font-size="11.5" fill="#111" textLength="8.40" lengthAdjust="spacingAndGlyphs">0</text>
<line x1="458.29999999999995" y1="422.1" x2="458.29999999999995" y2="423.6" stroke="#111" stroke-width="1" />
<text x="449.60" y="434.50" font-size="11.5" fill="#111" textLength="15.92" lengthAdjust="spacingAndGlyphs">15</text>
<line x1="484.54999999999995" y1="422.1" x2="484.54999999999995" y2="423.6" stroke="#111" stroke-width="1" />
<text x="476.44" y="434.50" font-size="11.5" fill="#111" textLength="15.31" lengthAdjust="spacingAndGlyphs">30</text>
<line x1="510.79999999999995" y1="422.1" x2="510.79999999999995" y2="423.6" stroke="#111" stroke-width="1" />
<text x="502.83" y="434.50" font-size="11.5" fill="#111" textLength="15.17" lengthAdjust="spacingAndGlyphs">45</text>
<line x1="537.05" y1="422.1" x2="537.05" y2="423.6" stroke="#111" stroke-width="1" />
<text x="528.65" y="434.50" font-size="11.5" fill="#111" textLength="15.61" lengthAdjust="spacingAndGlyphs">60</text>
<line x1="563.3" y1="422.1" x2="563.3" y2="423.6" stroke="#111" stroke-width="1" />
<text x="554.90" y="434.50" font-size="11.5" fill="#111" textLength="15.61" lengthAdjust="spacingAndGlyphs">75</text>
<text x="336.14" y="486.60" font-size="20.5" fill="#222" textLength="7.20" lengthAdjust="spacingAndGlyphs">f</text>
<text transform="translate(341.00,663.40) rotate(-90)" x="-1.31" y="0" font-size="18.3" fill="#222" textLength="171.57" lengthAdjust="spacingAndGlyphs">Read Number (Millions)</text>
<line x1="365.4" y1="504.2" x2="365.4" y2="655.7" stroke="#9a9a9a" stroke-width="1" />
<line x1="365.4" y1="655.7" x2="634" y2="655.7" stroke="#9a9a9a" stroke-width="1.2" />
<line x1="363.4" y1="510.2" x2="365.4" y2="510.2" stroke="#777" stroke-width="0.8" />
<line x1="363.4" y1="545.1" x2="365.4" y2="545.1" stroke="#777" stroke-width="0.8" />
<line x1="363.4" y1="579.7" x2="365.4" y2="579.7" stroke="#777" stroke-width="0.8" />
<line x1="363.4" y1="614.4" x2="365.4" y2="614.4" stroke="#777" stroke-width="0.8" />
<line x1="363.4" y1="649.1" x2="365.4" y2="649.1" stroke="#777" stroke-width="0.8" />
<text transform="translate(358.80,652.00) rotate(-90)" x="-0.36" y="0" font-size="11.8" fill="#222" textLength="6.70" lengthAdjust="spacingAndGlyphs">0</text>
<text transform="translate(358.80,616.90) rotate(-90)" x="-0.52" y="0" font-size="11.8" fill="#222" textLength="7.18" lengthAdjust="spacingAndGlyphs">5</text>
<text transform="translate(358.80,585.00) rotate(-90)" x="-0.79" y="0" font-size="11.8" fill="#222" textLength="12.49" lengthAdjust="spacingAndGlyphs">10</text>
<text transform="translate(358.80,550.40) rotate(-90)" x="-0.83" y="0" font-size="11.8" fill="#222" textLength="13.16" lengthAdjust="spacingAndGlyphs">15</text>
<text transform="translate(358.80,514.60) rotate(-90)" x="-0.58" y="0" font-size="11.8" fill="#222" textLength="12.90" lengthAdjust="spacingAndGlyphs">20</text>
<rect x="385.10" y="516.80" width="18.80" height="137.80" fill="#e66c66" />
<rect x="403.90" y="538.80" width="19.00" height="115.80" fill="#ac9a36" />
<rect x="422.90" y="567.90" width="19.00" height="86.70" fill="#1aab5b" />
<rect x="441.90" y="570.90" width="19.20" height="83.70" fill="#00aeb6" />
<rect x="461.10" y="572.30" width="19.00" height="82.30" fill="#6389c6" />
<rect x="480.10" y="584.40" width="19.00" height="70.20" fill="#c672a6" />
<rect x="512.30" y="516.80" width="18.80" height="137.80" fill="#e66c66" />
<rect x="531.10" y="518.20" width="19.20" height="136.40" fill="#ac9a36" />
<rect x="550.30" y="525.80" width="19.20" height="128.80" fill="#1aab5b" />
<rect x="569.50" y="529.60" width="19.00" height="125.00" fill="#00aeb6" />
<rect x="588.50" y="528.20" width="19.20" height="126.40" fill="#6389c6" />
<rect x="607.70" y="550.10" width="19.00" height="104.50" fill="#c672a6" />
<text x="372.74" y="672.20" font-size="18.4" fill="#222" textLength="135.88" lengthAdjust="spacingAndGlyphs">Usual Truncation</text>
<text x="515.95" y="672.20" font-size="18.4" fill="#222" textLength="112.86" lengthAdjust="spacingAndGlyphs">No Truncation</text>
<rect x="630.00" y="514.10" width="13.10" height="13.80" fill="#e66c66" />
<rect x="630.00" y="530.40" width="13.10" height="13.40" fill="#ac9a36" />
<rect x="630.00" y="546.00" width="13.10" height="13.70" fill="#1aab5b" />
<rect x="630.00" y="561.20" width="13.10" height="13.80" fill="#00aeb6" />
<rect x="630.00" y="576.50" width="13.10" height="14.00" fill="#6389c6" />
<rect x="630.00" y="591.90" width="13.10" height="13.80" fill="#c672a6" />
<text x="644.17" y="523.90" font-size="7.0" fill="#000" textLength="13.21" lengthAdjust="spacingAndGlyphs">Total</text>
<text x="643.58" y="540.20" font-size="7.0" fill="#000" textLength="17.00" lengthAdjust="spacingAndGlyphs">PolyA</text>
<text x="643.57" y="555.40" font-size="7.0" fill="#000" textLength="17.91" lengthAdjust="spacingAndGlyphs">Linker</text>
<text x="643.57" y="570.80" font-size="7.0" fill="#000" textLength="41.14" lengthAdjust="spacingAndGlyphs">Barcode &gt;=11</text>
<text x="643.57" y="586.20" font-size="7.0" fill="#000" textLength="19.41" lengthAdjust="spacingAndGlyphs">Primer</text>
<text x="643.56" y="601.90" font-size="7.0" fill="#000" textLength="42.18" lengthAdjust="spacingAndGlyphs">Barcode &gt;=13</text>
</svg>
</body></html>
